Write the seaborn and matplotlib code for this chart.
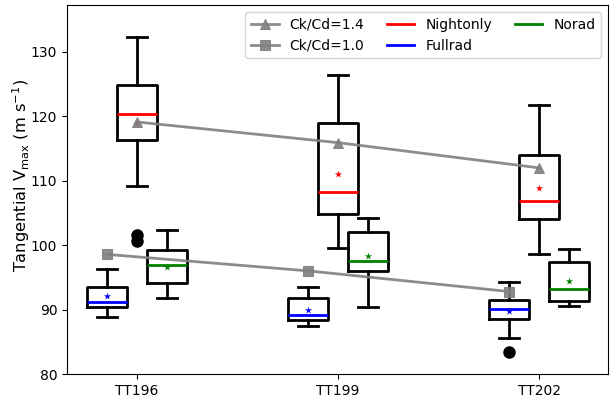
import numpy as np
import pandas as pd
import matplotlib
matplotlib.use("Agg")
import matplotlib.pyplot as plt
from matplotlib.lines import Line2D
import seaborn as sns

cases = ["TT196", "TT199", "TT202"]
groups = ["Nightonly", "Fullrad", "Norad"]
group_colors = ["red", "blue", "green"]
group_offsets = [0.0, -0.15, 0.15]

# Box statistics
night_whislo = [109.2, 99.6, 98.6]
night_q1 = [116.3, 104.8, 104.1]
night_med = [120.4, 108.2, 106.8]
night_q3 = [124.9, 118.9, 114.0]
night_whishi = [132.2, 126.3, 121.8]
night_mean = [119.0, 111.1, 108.8]
night_fliers = [[101.6, 100.6], [], []]

full_whislo = [88.9, 87.5, 85.6]
full_q1 = [90.4, 88.4, 88.6]
full_med = [91.3, 89.2, 90.1]
full_q3 = [93.6, 91.9, 91.5]
full_whishi = [96.4, 93.6, 94.3]
full_mean = [92.1, 90.0, 89.8]
full_fliers = [[], [], [83.5]]

norad_whislo = [91.8, 90.4, 90.6]
norad_q1 = [94.2, 96.0, 91.4]
norad_med = [96.9, 97.6, 93.3]
norad_q3 = [99.2, 102.0, 97.4]
norad_whishi = [102.3, 104.3, 99.4]
norad_mean = [96.6, 98.4, 94.4]
norad_fliers = [[], [], []]

ck14 = [119.1, 115.9, 112.0]
ck10 = [98.6, 96.05, 92.85]

stats_by_group = [
    (night_whislo, night_q1, night_med, night_q3, night_whishi, night_mean, night_fliers),
    (full_whislo, full_q1, full_med, full_q3, full_whishi, full_mean, full_fliers),
    (norad_whislo, norad_q1, norad_med, norad_q3, norad_whishi, norad_mean, norad_fliers),
]

fig = plt.figure(figsize=(6.12, 3.97), dpi=100)
ax = fig.add_axes([0.1095, 0.0567, 0.884, 0.9305])

base = np.arange(1, len(cases) + 1)
width = 0.2
for (wl, q1, md, q3, wh, mn, fl), col, off in zip(stats_by_group, group_colors, group_offsets):
    stats = []
    for i in range(len(cases)):
        stats.append(dict(whislo=wl[i], q1=q1[i], med=md[i], q3=q3[i], whishi=wh[i],
                          fliers=fl[i], label=cases[i]))
    ax.bxp(stats, positions=base + off, widths=width, showfliers=True, showmeans=False,
           manage_ticks=False,
           boxprops=dict(color="black", linewidth=2),
           whiskerprops=dict(color="black", linewidth=2),
           capprops=dict(color="black", linewidth=2),
           medianprops=dict(color=col, linewidth=2),
           flierprops=dict(marker="o", markerfacecolor="black", markeredgecolor="black",
                           markersize=8))
    sns.scatterplot(x=base + off, y=mn, marker="*", color=col, s=30, linewidth=0,
                    ax=ax, zorder=3, legend=False)

sns.lineplot(x=base + group_offsets[0], y=ck14, color="gray", marker="^", markersize=7,
             markeredgecolor="gray", linewidth=2, ax=ax, label="Ck/Cd=1.4", zorder=4,
             alpha=0.9)
sns.lineplot(x=base + group_offsets[1], y=ck10, color="gray", marker="s", markersize=7,
             markeredgecolor="gray", linewidth=2, ax=ax, label="Ck/Cd=1.0", zorder=4,
             alpha=0.9)

handles, labels = ax.get_legend_handles_labels()
for g, c in zip(groups, group_colors):
    handles.append(Line2D([0], [0], color=c, linewidth=2))
    labels.append(g)
ax.legend(handles, labels, ncol=3, loc="upper right", fontsize=10, columnspacing=1.6)

ax.set_xticks(base)
ax.set_xticklabels(cases)
ax.set_xlim(0.652, 3.343)
ax.set_ylim(80, 137.2)
ax.set_yticks([80, 90, 100, 110, 120, 130])
ax.tick_params(labelsize=10)
ax.set_ylabel(r"Tangential V$_{\max}$ (m s$^{-1}$)", fontsize=11.7)
ax.yaxis.set_label_coords(-0.065, 0.538)

fig.savefig("out.png", dpi=100)
